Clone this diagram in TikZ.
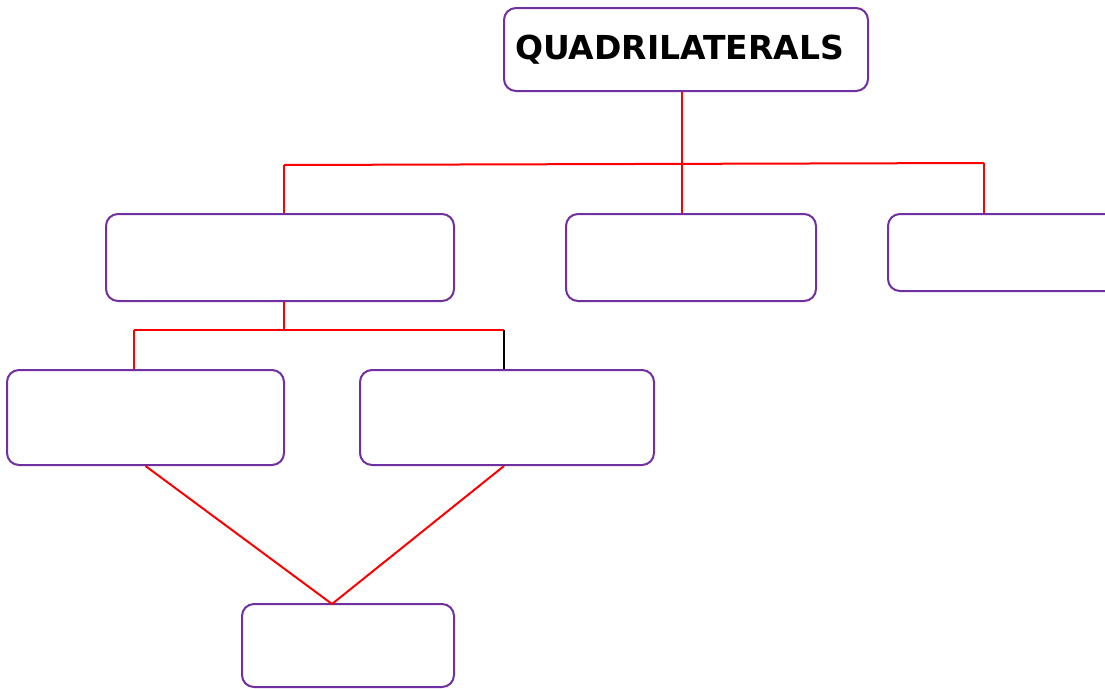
\documentclass[tikz,border=0pt]{standalone}
\usepackage{fontspec}
\newfontfamily\titlefont{DejaVu Sans}
\usetikzlibrary{positioning}
\definecolor{BoxPurple}{RGB}{112,48,160}
\definecolor{LinkRed}{RGB}{255,0,0}

\begin{document}
\begin{tikzpicture}[
    x=1pt, y=-1pt,
    box/.style={draw=BoxPurple, line width=2pt, rounded corners=12pt, fill=white, inner sep=0pt},
    link/.style={draw=LinkRed, line width=2pt}
]
\clip (0,0) rectangle (1105,688);
\fill[white] (0,0) rectangle (1105,688);
\node[box, minimum width=364, minimum height=83, text width=342, inner xsep=11pt, align=left,
      font=\titlefont\bfseries\fontsize{33}{39}\selectfont] (title) at (686,49.5) {QUADRILATERALS};
\node[box, minimum width=348, minimum height=87] (left1) at (280,257.5) {};
\node[box, minimum width=250, minimum height=87] (mid1) at (691,257.5) {};
\node[box, minimum width=260, minimum height=77] (right1) at (1018,252.5) {};
\node[box, minimum width=277, minimum height=95] (left2) at (145.5,417.5) {};
\node[box, minimum width=294, minimum height=95] (right2) at (507,417.5) {};
\node[box, minimum width=212, minimum height=83] (bottom) at (348,645.5) {};
% branch points
\coordinate (topL) at (284,165);
\coordinate (topR) at (984,163);
\coordinate (hub) at (682,164);
\coordinate (midL) at (134,330);
\coordinate (midR) at (504,330);
\coordinate (midhub) at (284,330);
\coordinate (meet) at (332,604);
\draw[link] (hub |- title.south) -- (hub);
\draw[link] (topL) -- (topR);
\draw[link] (topL) -- (topL |- left1.north);
\draw[link] (hub) -- (hub |- mid1.north);
\draw[link] (topR) -- (topR |- right1.north);
\draw[link] (midhub |- left1.south) -- (midhub);
\draw[link] (midL) -- (midR);
\draw[link] (midL) -- (midL |- left2.north);
\draw[line width=2pt] (midR) -- (midR |- right2.north);
\draw[link] (left2.south) -- (meet);
\draw[link] (midR |- right2.south) -- (meet);
\end{tikzpicture}
\end{document}
